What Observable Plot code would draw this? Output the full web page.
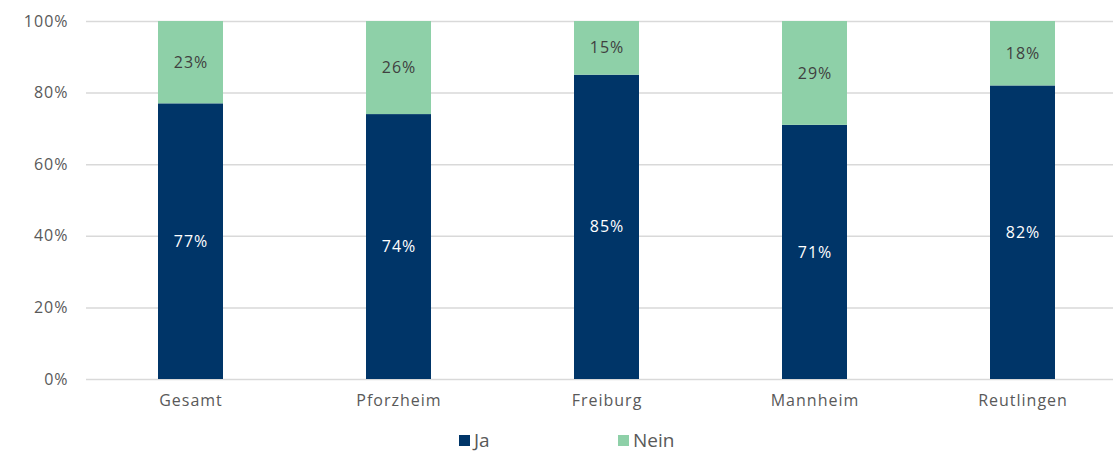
<!DOCTYPE html>
<html>
<head>
<meta charset="utf-8">
<script src="https://cdn.jsdelivr.net/npm/d3@7"></script>
<script src="https://cdn.jsdelivr.net/npm/@observablehq/plot@0.6"></script>
<style>
  body { margin: 0; background: #fff; font-family: "Open Sans", sans-serif; }
  #chart { width: 1113px; }
  #chart svg text { letter-spacing: 1px; }
  .legend { position: relative; width: 1113px; height: 36px; font-size: 19px; color: #595959; }
  .legend .item { position: absolute; top: 7px; display: flex; align-items: center; }
  .legend .sw { width: 11px; height: 11px; margin-right: 4px; display: inline-block; }
</style>
</head>
<body>
<div id="chart"></div>
<script>
const categories = ["Gesamt", "Pforzheim", "Freiburg", "Mannheim", "Reutlingen"];
const jaValues = [77, 74, 85, 71, 82];
const neinValues = [23, 26, 15, 29, 18];
const yTicks = [0, 20, 40, 60, 80, 100];
const seriesNames = ["Ja", "Nein"];
const seriesColors = ["#003568", "#8ed0a8"];

const rows = [];
categories.forEach((c, i) => {
  rows.push({cat: c, series: "Ja", value: jaValues[i]});
  rows.push({cat: c, series: "Nein", value: neinValues[i]});
});

const chart = Plot.plot({
  width: 1113,
  height: 420,
  marginTop: 21,
  marginBottom: 41,
  marginLeft: 86,
  marginRight: 0,
  style: { fontFamily: "'Open Sans', sans-serif", fontSize: "16px", color: "#595959", background: "#fff" },
  x: { domain: categories, range: [86, 1126], paddingInner: 0.6875, paddingOuter: 0.34375, label: null, tickSize: 0, tickPadding: 15 },
  y: { domain: [0, 100], ticks: yTicks, tickFormat: d => d + "%", label: null, tickSize: 0, tickPadding: 18 },
  color: { domain: seriesNames, range: seriesColors },
  marks: [
    Plot.ruleY(yTicks, { stroke: "#d9d9d9", strokeWidth: 1.5 }),
    Plot.barY(rows, Plot.stackY({ x: "cat", y: "value", fill: "series", order: seriesNames })),
    Plot.text(rows, Plot.stackY({
      x: "cat", y: "value", order: seriesNames,
      text: d => d.value + "%",
      fill: d => d.series === "Ja" ? "#ffffff" : "#404040",
      fontSize: 16
    }))
  ]
});
document.getElementById("chart").appendChild(chart);

const legend = document.createElement("div");
legend.className = "legend";
const lefts = [459, 618];
seriesNames.forEach((name, i) => {
  const item = document.createElement("div");
  item.className = "item";
  item.style.left = lefts[i] + "px";
  const sw = document.createElement("span");
  sw.className = "sw";
  sw.style.background = seriesColors[i];
  const label = document.createElement("span");
  label.textContent = name;
  item.appendChild(sw);
  item.appendChild(label);
  legend.appendChild(item);
});
document.body.appendChild(legend);
</script>
</body>
</html>
